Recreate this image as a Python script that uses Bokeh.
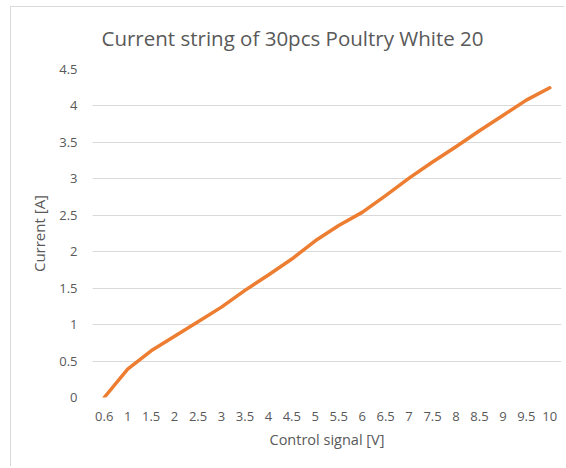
from bokeh.plotting import figure
from bokeh.models import FactorRange, Range1d, FixedTicker, CustomJSTickFormatter
from bokeh.embed import file_html
from bokeh.resources import INLINE

control_signal = ["0.6", "1", "1.5", "2", "2.5", "3", "3.5", "4", "4.5", "5",
                  "5.5", "6", "6.5", "7", "7.5", "8", "8.5", "9", "9.5", "10"]
current = [0.0, 0.39, 0.64, 0.84, 1.04, 1.24, 1.47, 1.68, 1.90, 2.15,
           2.36, 2.54, 2.77, 3.01, 3.23, 3.44, 3.66, 3.87, 4.08, 4.25]
y_ticks = [0, 0.5, 1, 1.5, 2, 2.5, 3, 3.5, 4, 4.5]

title_text = "Current string of 30pcs Poultry White 20"
x_label = "Control signal [V]"
y_label = "Current [A]"

FONT = "Open Sans"
TXT = "#595959"
GRID = "#d9d9d9"

p = figure(width=564, height=466, output_backend="svg", toolbar_location=None,
           x_range=FactorRange(*control_signal, range_padding=0),
           y_range=Range1d(0, 4.5),
           min_border_left=92, min_border_right=3, min_border_top=69, min_border_bottom=69,
           title=title_text)

p.line(x=control_signal, y=current, line_color="#ED7D31", line_width=3.5,
       line_join="round", line_cap="round")

p.title.align = "left"
p.title.offset = 9
p.title.standoff = 36
p.title.text_font = FONT
p.title.text_font_size = "20.5px"
p.title.text_font_style = "normal"
p.title.text_color = TXT

p.outline_line_color = None
p.border_fill_color = None
p.background_fill_color = "white"
p.xgrid.grid_line_color = None
p.ygrid.grid_line_color = GRID
p.ygrid.grid_line_width = 1
p.yaxis.ticker = FixedTicker(ticks=y_ticks)
p.yaxis.formatter = CustomJSTickFormatter(code="return String(tick);")

for ax in (p.xaxis[0], p.yaxis[0]):
    ax.axis_line_color = None
    ax.major_tick_line_color = None
    ax.minor_tick_line_color = None
    ax.major_tick_out = 0
    ax.major_tick_in = 0
    ax.major_label_text_font = FONT
    ax.major_label_text_font_size = "13px"
    ax.major_label_text_color = TXT
    ax.axis_label_text_font = FONT
    ax.axis_label_text_color = TXT
    ax.axis_label_text_font_style = "normal"

p.xaxis.axis_label = x_label
p.yaxis.axis_label = y_label
p.xaxis.axis_label_text_font_size = "14.5px"
p.yaxis.axis_label_text_font_size = "15px"
p.yaxis.major_label_standoff = 15
p.yaxis.axis_label_standoff = 7
p.xaxis.major_label_standoff = 14
p.xaxis.axis_label_standoff = 6

# chart-area border (left and top edges) painted behind the transparent canvas border
p.styles = {
    "background-color": "white",
    "background-image": "linear-gradient(#d9d9d9, #d9d9d9), linear-gradient(#d9d9d9, #d9d9d9)",
    "background-position": "10px 6px, 10px 6px",
    "background-size": "1px 100%, 100% 1px",
    "background-repeat": "no-repeat, no-repeat",
}

open("out.html", "w").write(file_html(p, INLINE))
